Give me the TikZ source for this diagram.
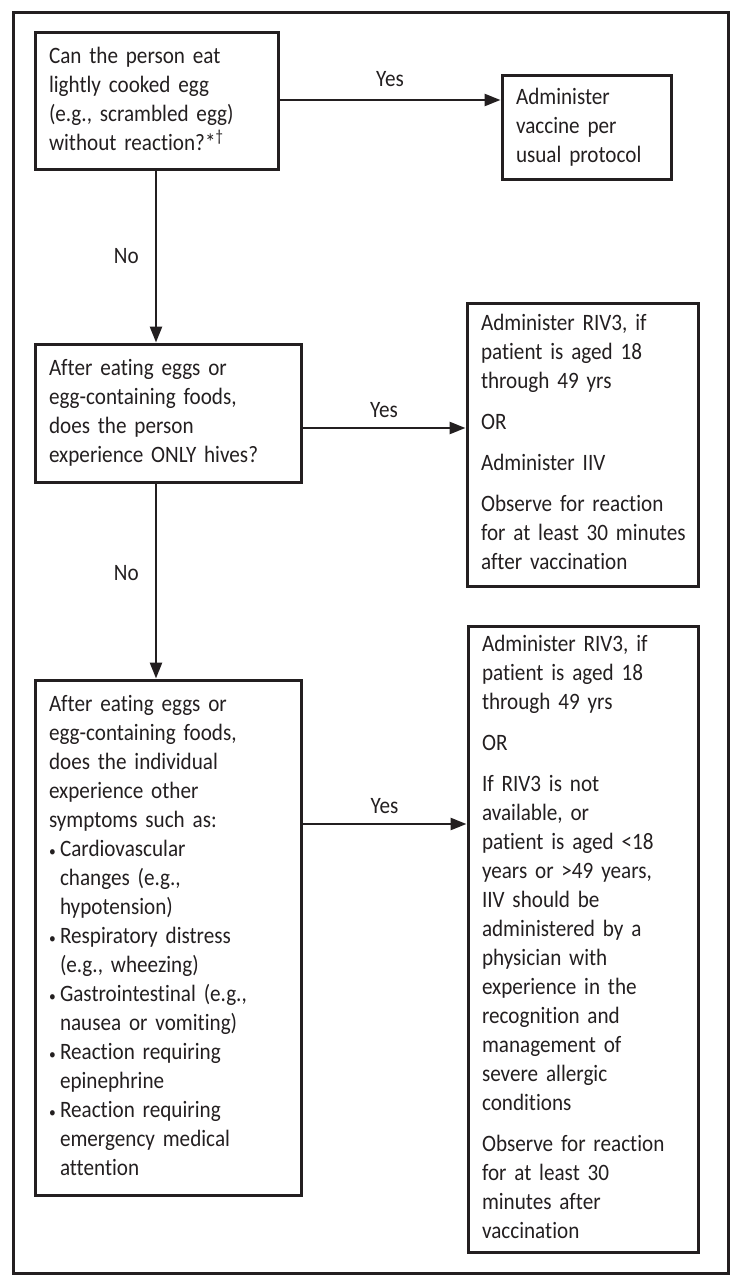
\documentclass[tikz,border=0pt]{standalone}
\usepackage{fontspec}
\setmainfont{Carlito}[FakeStretch=0.9, Ligatures=NoCommon]
\usetikzlibrary{arrows.meta}
\definecolor{ink}{HTML}{231F20}
\newcommand\fs{\fontsize{23.5}{29}\selectfont\lefthyphenmin=62\relax}
\newcommand\bul{\makebox[11pt][l]{\fontsize{15}{15}\selectfont•}}
\newcommand\ind{\hspace*{11pt}}
\newcommand\lines[1]{\begin{tabular}{@{}l@{}}#1\end{tabular}}
\tikzset{
  box/.style={draw=ink, text=ink, line width=3pt, inner xsep=14pt, inner ysep=0pt, align=left, font=\fs},
  arr/.style={draw=ink, line width=2.6pt, -{Triangle[length=16pt,width=12pt]}},
  lbl/.style={font=\fs, text=ink, inner sep=0pt}
}
\begin{document}
\begin{tikzpicture}[x=1pt,y=-1pt]
\useasboundingbox (0,0) rectangle (741,1287);
\draw[ink, line width=3pt] (13,13) rectangle (728,1273);

\node[box, minimum width=243pt, minimum height=136pt, text width=215pt] (b1) at (156.5,101)
  {\lines{Can the person eat\\lightly cooked egg\\(e.g., scrambled egg)\\without reaction?*\textsuperscript{†}}};
\node[box, minimum width=169pt, minimum height=103pt, text width=141pt] (b2) at (586.5,127.5)
  {\lines{Administer\\vaccine per\\usual protocol}};
\node[box, minimum width=266pt, minimum height=138pt, text width=238pt] (b3) at (168,413)
  {\lines{After eating eggs or\\egg-containing foods,\\does the person\\experience ONLY hives?}};
\node[box, minimum width=231pt, minimum height=283pt, text width=203pt] (b4) at (582.5,444.5)
  {\lines{Administer RIV3, if\\patient is aged 18\\through 49 yrs\\[12pt]OR\\[12pt]Administer IIV\\[12pt]Observe for reaction\\for at least 30 minutes\\after vaccination}};
\node[box, minimum width=266pt, minimum height=515pt, text width=238pt] (b5) at (168,937.5)
  {\lines{After eating eggs or\\egg-containing foods,\\does the individual\\experience other\\symptoms such as:\\
   \bul Cardiovascular\\\ind changes (e.g.,\\\ind hypotension)\\
   \bul Respiratory distress\\\ind (e.g., wheezing)\\
   \bul Gastrointestinal (e.g.,\\\ind nausea or vomiting)\\
   \bul Reaction requiring\\\ind epinephrine\\
   \bul Reaction requiring\\\ind emergency medical\\\ind attention}};
\node[box, minimum width=230pt, minimum height=626pt, text width=202pt] (b6) at (583,939)
  {\lines{Administer RIV3, if\\patient is aged 18\\through 49 yrs\\[12pt]OR\\[12pt]If RIV3 is not\\available, or\\patient is aged <18\\years or >49 years,\\IIV should be\\administered by a\\physician with\\experience in the\\recognition and\\management of\\severe allergic\\conditions\\[12pt]Observe for reaction\\for at least 30\\minutes after\\vaccination}};

\draw[arr] ([yshift=1pt]b1.east) -- ([yshift=1pt]b1.east -| b2.west)
  node[lbl, midway, above=12pt] (y1) {Yes};
\draw[arr] ([xshift=-0.5pt]b1.south) -- ([xshift=-0.5pt]b1.south |- b3.north)
  node[lbl, midway, left=16pt] (n1) {No};
\draw[arr] ([yshift=-15pt]b3.east) -- ([yshift=-15pt]b3.east -| b4.west)
  node[lbl, midway, above=9pt] (y2) {Yes};
\draw[arr] ([xshift=-12pt]b3.south) -- ([xshift=-12pt]b3.south |- b5.north)
  node[lbl, midway, left=16pt, yshift=8pt] (n2) {No};
\draw[arr] ([yshift=113.5pt]b5.east) -- ([yshift=113.5pt]b5.east -| b6.west)
  node[lbl, midway, above=9pt] (y3) {Yes};
\end{tikzpicture}
\end{document}
